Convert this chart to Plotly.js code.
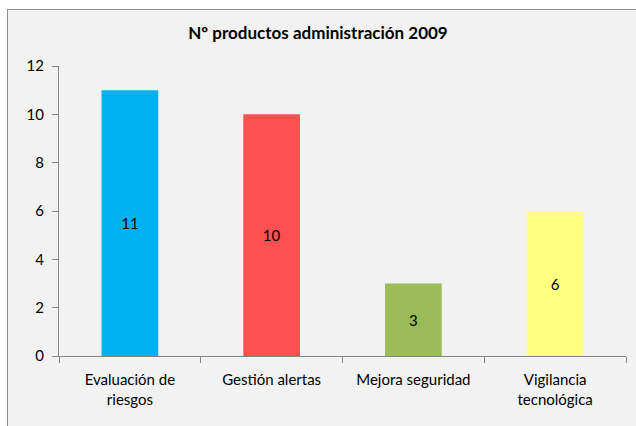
<!DOCTYPE html>
<html>
<head>
<meta charset="utf-8">
<script src="https://cdn.plot.ly/plotly-3.0.1.min.js"></script>
<style>
  html, body { margin: 0; padding: 0; background: #ffffff; overflow: hidden; }
  #frame { position: absolute; left: 7px; top: 9px; width: 700px; height: 500px;
           background: #f2f2f2; border: 1px solid #8c8c8c; }
  #chart { position: absolute; left: 0; top: 0; width: 636px; height: 426px; }
</style>
</head>
<body>
<div id="frame"></div>
<div id="chart"></div>
<script>
const categories = ["Evaluación de<br>riesgos", "Gestión alertas", "Mejora seguridad", "Vigilancia<br>tecnológica"];
const values = [11, 10, 3, 6];
const barColors = ["#00b0f0", "#ff5050", "#9bbb59", "#ffff80"];
const yTicks = [0, 2, 4, 6, 8, 10, 12];

const font = "Lato, 'Open Sans', sans-serif";

Plotly.newPlot("chart", [{
  type: "bar",
  x: categories,
  y: values,
  marker: { color: barColors, line: { width: 0 } },
  text: values.map(String),
  textposition: "inside",
  insidetextanchor: "middle",
  textfont: { family: font, size: 15, color: "#000000" },
  width: 0.4,
  hoverinfo: "none"
}], {
  width: 636, height: 426,
  margin: { l: 59, r: 10, t: 66, b: 70 },
  paper_bgcolor: "rgba(0,0,0,0)",
  plot_bgcolor: "rgba(0,0,0,0)",
  showlegend: false,
  title: { text: "<b>Nº productos administración 2009</b>", font: { family: font, size: 17, color: "#000000" },
           x: 0.5, xanchor: "center", y: 0.922, yanchor: "middle" },
  xaxis: {
    showgrid: false, zeroline: false,
    showline: true, linecolor: "#868686", linewidth: 1,
    ticks: "outside", tickson: "boundaries", ticklen: 6, tickcolor: "#868686",
    ticklabelstandoff: 10,
    tickfont: { family: font, size: 15, color: "#000000" },
    fixedrange: true
  },
  yaxis: {
    range: [0, 12], tickvals: yTicks, showgrid: false, zeroline: false,
    showline: true, linecolor: "#868686", linewidth: 1,
    ticks: "outside", ticklen: 6, tickcolor: "#868686",
    ticklabelstandoff: 5,
    tickfont: { family: font, size: 15, color: "#000000" },
    fixedrange: true
  }
}, { staticPlot: true });
</script>
</body>
</html>
